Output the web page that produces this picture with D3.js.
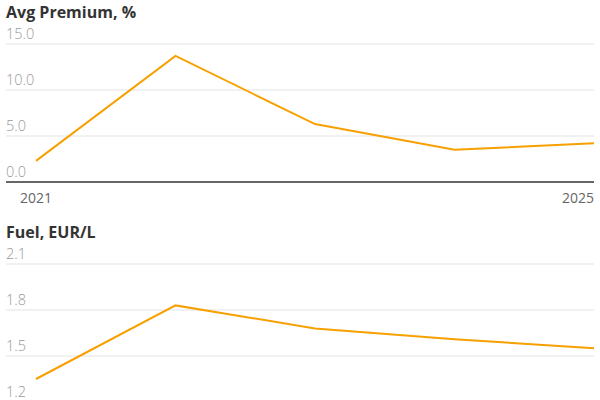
<!DOCTYPE html>
<html><head><meta charset="utf-8">
<script src="https://cdn.jsdelivr.net/npm/d3@7"></script>
<style>body{margin:0;background:#fff}svg{display:block;font-family:"Open Sans",sans-serif;font-stretch:100%}</style>
</head><body><svg id="c" width="600" height="400"></svg>
<script>
const years = [2021, 2022, 2023, 2024, 2025];
const premium = [2.3, 13.7, 6.3, 3.5, 4.2];
const fuel = [1.35, 1.83, 1.68, 1.61, 1.55];
const premiumTicks = [0, 5, 10, 15];
const fuelTicks = [1.2, 1.5, 1.8, 2.1];
const xTickLabels = [2021, 2025];

const svg = d3.select("#c");
const x = d3.scaleLinear().domain([2021, 2025]).range([36, 594]);

function panel(title, titleY, values, ticks, fmt, yRange, showBase) {
  const g = svg.append("g");
  const y = d3.scaleLinear().domain([ticks[0], ticks[ticks.length-1]]).range(yRange);
  g.append("text").attr("x", 6).attr("y", titleY).attr("font-size", 16).attr("font-weight", 700)
    .attr("fill", "#333").text(title);
  ticks.forEach((t, i) => {
    if (!(showBase && i === 0)) {
      g.append("line").attr("x1", 6).attr("x2", 594).attr("y1", y(t)).attr("y2", y(t))
        .attr("stroke", "#e3e3e3").attr("stroke-width", 1);
    }
    g.append("text").attr("x", 6).attr("y", y(t) - 5).attr("font-size", 14.5).attr("font-weight", 300)
      .attr("fill", "#999").text(fmt(t));
  });
  if (showBase) {
    g.append("line").attr("x1", 6).attr("x2", 594).attr("y1", y(ticks[0])).attr("y2", y(ticks[0]))
      .attr("stroke", "#666").attr("stroke-width", 2);
  }
  const line = d3.line().x((d, i) => x(years[i])).y(d => y(d));
  g.append("path").datum(values).attr("d", line).attr("fill", "none")
    .attr("stroke", "#f7a000").attr("stroke-width", 2).attr("stroke-linejoin", "miter");
  return {g, y};
}

panel("Avg Premium, %", 18, premium, premiumTicks, d3.format(".1f"), [182, 44], true);
xTickLabels.forEach((t, i) => {
  svg.append("text").attr("x", x(t)).attr("y", 203).attr("font-size", 14)
    .attr("text-anchor", i === 0 ? "middle" : "end").attr("fill", "#666").text(t);
});
panel("Fuel, EUR/L", 238, fuel, fuelTicks, d3.format(".1f"), [402, 264], false);
</script></body></html>
